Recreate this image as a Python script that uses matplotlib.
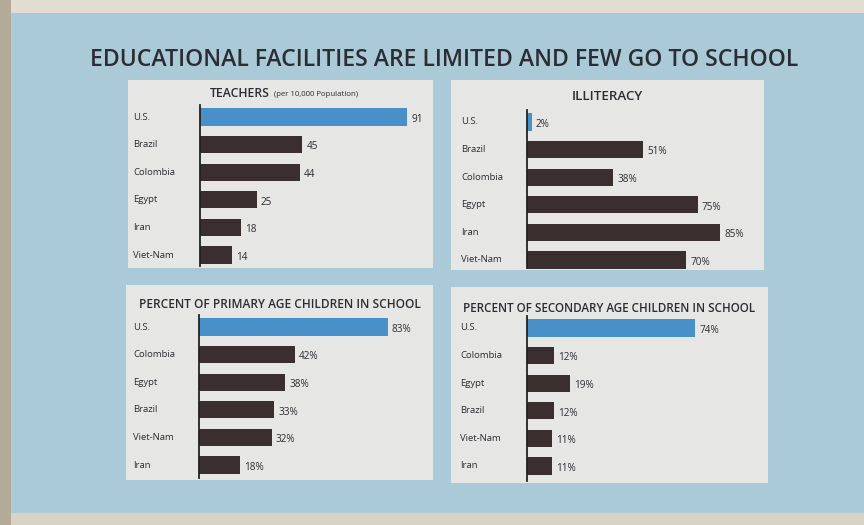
import matplotlib
matplotlib.use("Agg")
import matplotlib.pyplot as plt
from matplotlib.patches import Rectangle
from matplotlib.transforms import blended_transform_factory

# ---------------- data ----------------
title = "EDUCATIONAL FACILITIES ARE LIMITED AND FEW GO TO SCHOOL"

teachers_countries = ["U.S.", "Brazil", "Colombia", "Egypt", "Iran", "Viet-Nam"]
teachers_values = [91, 45, 44, 25, 18, 14]
teachers_labels = ["91", "45", "44", "25", "18", "14"]

illit_countries = ["U.S.", "Brazil", "Colombia", "Egypt", "Iran", "Viet-Nam"]
illit_values = [2, 51, 38, 75, 85, 70]
illit_labels = ["2%", "51%", "38%", "75%", "85%", "70%"]

primary_countries = ["U.S.", "Colombia", "Egypt", "Brazil", "Viet-Nam", "Iran"]
primary_values = [83, 42, 38, 33, 32, 18]
primary_labels = ["83%", "42%", "38%", "33%", "32%", "18%"]

secondary_countries = ["U.S.", "Colombia", "Egypt", "Brazil", "Viet-Nam", "Iran"]
secondary_values = [74, 12, 19, 12, 11, 11]
secondary_labels = ["74%", "12%", "19%", "12%", "11%", "11%"]

# ---------------- style ----------------
W, H = 864, 525
BG = "#a9cad6"
PANEL = "#e6e6e4"
DARK = "#3a2e2e"
BLUE = "#4a90c8"
TEXT = "#2c2c34"
FONT = ["Open Sans", "DejaVu Sans"]

fig = plt.figure(figsize=(W / 100, H / 100), dpi=100)
fig.patch.set_facecolor(BG)

# page edges of the scan
fig.add_artist(Rectangle((0, 1 - 13 / H), 1, 13 / H, transform=fig.transFigure,
                         facecolor="#e2ddd2", edgecolor="none"))
fig.add_artist(Rectangle((0, 0), 1, 12 / H, transform=fig.transFigure,
                         facecolor="#d9d3c6", edgecolor="none"))
fig.add_artist(Rectangle((0, 0), 11 / W, 1, transform=fig.transFigure,
                         facecolor="#b3aa98", edgecolor="none"))

fig.text(444 / W, 1 - 60 / H, title, ha="center", va="center", fontsize=16.6,
         color=TEXT, family=FONT, fontweight="semibold")

SCALE = 2.275  # px per unit
ROW = 27.6     # px per row


def panel(box, zero_x, first_row_y, countries, values, labels, ttl, ttl_y, tsize,
          sub=None, label_x=None):
    x0, y0, x1, y1 = box
    ax = fig.add_axes([x0 / W, 1 - y1 / H, (x1 - x0) / W, (y1 - y0) / H])
    ax.set_facecolor(PANEL)
    xmin = -(zero_x - x0) / SCALE
    xmax = (x1 - zero_x) / SCALE
    ax.set_xlim(xmin, xmax)
    top = -(first_row_y - y0) / ROW
    bot = (y1 - first_row_y) / ROW
    ax.set_ylim(bot, top)
    ys = list(range(len(countries)))
    colors = [BLUE] + [DARK] * (len(countries) - 1)
    ax.barh(ys, values, height=0.62, color=colors, left=0)
    for y, v, lab in zip(ys, values, labels):
        ax.text(v + 1.8, y + 0.08, lab, ha="left", va="center", fontsize=7.2,
                color=TEXT, family=FONT)
    tr = blended_transform_factory(ax.transAxes, ax.transData)
    lx = (label_x - x0) / (x1 - x0)
    for y, c in zip(ys, countries):
        ax.text(lx, y, c, transform=tr, ha="left", va="center", fontsize=6.8,
                color=TEXT, family=FONT)
    # vertical base line
    yb_top = (-0.42 - bot) / (top - bot)
    ax.axvline(0, ymin=0.01, ymax=yb_top, color="#222222", lw=1.3)
    for s in ax.spines.values():
        s.set_visible(False)
    ax.set_xticks([])
    ax.set_yticks([])
    if sub is None:
        ax.text(0.5, 1 - (ttl_y - y0) / (y1 - y0), ttl, transform=ax.transAxes,
                ha="center", va="center", fontsize=tsize, color=TEXT, family=FONT,
                fontweight="semibold")
    else:
        t = ax.text(0.268, 1 - (ttl_y - y0) / (y1 - y0), ttl, transform=ax.transAxes,
                    ha="left", va="center", fontsize=tsize, color=TEXT, family=FONT,
                    fontweight="semibold")
        ax.annotate(sub, xycoords=t, xy=(1, 0.12), xytext=(3, 0),
                    textcoords="offset points", ha="left", va="bottom",
                    fontsize=5.6, color=TEXT, family=FONT)
    return ax


panel((128, 80, 433, 268), 200, 117, teachers_countries, teachers_values,
      teachers_labels, "TEACHERS", 93, 8.8, sub="(per 10,000 Population)", label_x=133)
panel((451, 80, 764, 270), 527, 122, illit_countries, illit_values,
      illit_labels, "ILLITERACY", 97, 9.6, label_x=461)
panel((126, 285, 433, 480), 199, 327, primary_countries, primary_values,
      primary_labels, "PERCENT OF PRIMARY AGE CHILDREN IN SCHOOL", 305, 8.6, label_x=133)
panel((451, 287, 768, 483), 527, 328, secondary_countries, secondary_values,
      secondary_labels, "PERCENT OF SECONDARY AGE CHILDREN IN SCHOOL", 308, 8.4, label_x=460)

fig.savefig("out.png", dpi=100, facecolor=BG)
